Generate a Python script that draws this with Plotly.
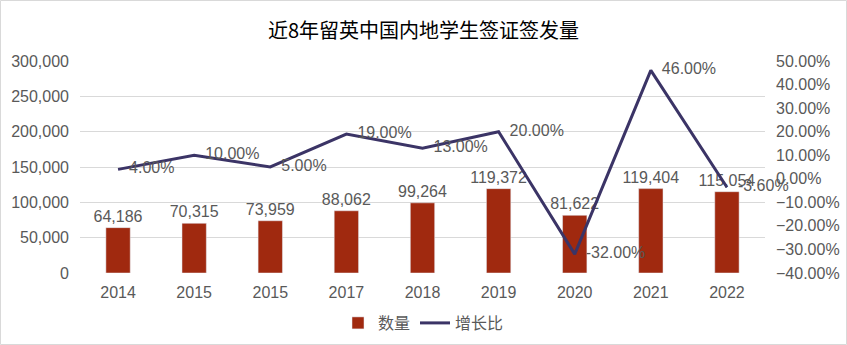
import plotly.graph_objects as go

years = ["2014", "2015", "2015", "2017", "2018", "2019", "2020", "2021", "2022"]
visas = [64186, 70315, 73959, 88062, 99264, 119372, 81622, 119404, 115054]
growth = [0.04, 0.10, 0.05, 0.19, 0.13, 0.20, -0.32, 0.46, -0.036]

xpos = list(range(len(years)))
TXT = "#595959"
FONT = "Liberation Sans, Arial, Noto Sans CJK SC, sans-serif"

fig = go.Figure()
fig.add_trace(go.Bar(
    x=xpos, y=visas, name="数量", marker_color="#A0290F",
    texttemplate="%{y:,}", textposition="outside", constraintext="none",
    textfont=dict(size=16, color=TXT), cliponaxis=False,
))
fig.add_trace(go.Scatter(
    x=xpos, y=growth, name="增长比", yaxis="y2", mode="lines+markers+text",
    line=dict(color="#3B3466", width=3),
    marker=dict(size=16, color="rgba(0,0,0,0)"),
    texttemplate="%{y:.2%}", textposition="middle right",
    textfont=dict(size=16, color=TXT), cliponaxis=False,
))

W, H = 847, 345
l, r, t, b = 80, 82, 61, 72

fig.update_layout(
    width=W, height=H,
    margin=dict(l=l, r=r, t=t, b=b, autoexpand=False),
    paper_bgcolor="white", plot_bgcolor="white",
    font=dict(family=FONT, size=16, color=TXT),
    title=dict(text="近8年留英中国内地学生签证签发量", x=0.5, xanchor="center",
               y=1 - 31 / H, yanchor="middle",
               font=dict(size=20, color="#000000",
                         family="Noto Sans CJK SC, Liberation Sans, sans-serif")),
    bargap=0.68,
    showlegend=True,
    legend=dict(orientation="h", x=0.5, xanchor="center", xref="container",
                y=1 - 323 / H, yanchor="middle", yref="container",
                font=dict(size=16, color=TXT, family="Noto Sans CJK SC, Liberation Sans"),
                itemwidth=30, bgcolor="rgba(0,0,0,0)"),
    xaxis=dict(tickvals=xpos, ticktext=years, range=[-0.5, len(years) - 0.5],
               showgrid=False, showline=False, ticks="", zeroline=False,
               ticklabelstandoff=8, tickfont=dict(size=16, color=TXT)),
    yaxis=dict(range=[0, 300000], dtick=50000, tickformat=",", showgrid=True,
               gridcolor="#D9D9D9", gridwidth=1, zeroline=False, showline=False,
               ticks="", ticklabelstandoff=10, tickfont=dict(size=16, color=TXT)),
    yaxis2=dict(range=[-0.4, 0.5], dtick=0.1, tickformat=".2%", overlaying="y",
                side="right", showgrid=False, zeroline=False, showline=False,
                ticks="", ticklabelstandoff=10, tickfont=dict(size=16, color=TXT)),
)

# outer light frame around chart
pw, ph = W - l - r, H - t - b
fig.add_shape(type="rect", xref="paper", yref="paper",
              x0=(0.5 - l) / pw, x1=(W - 0.5 - l) / pw,
              y0=-(b - 0.5) / ph, y1=1 + (t - 0.5) / ph,
              line=dict(color="#D9D9D9", width=1), layer="below")

fig.write_html("out.html")
